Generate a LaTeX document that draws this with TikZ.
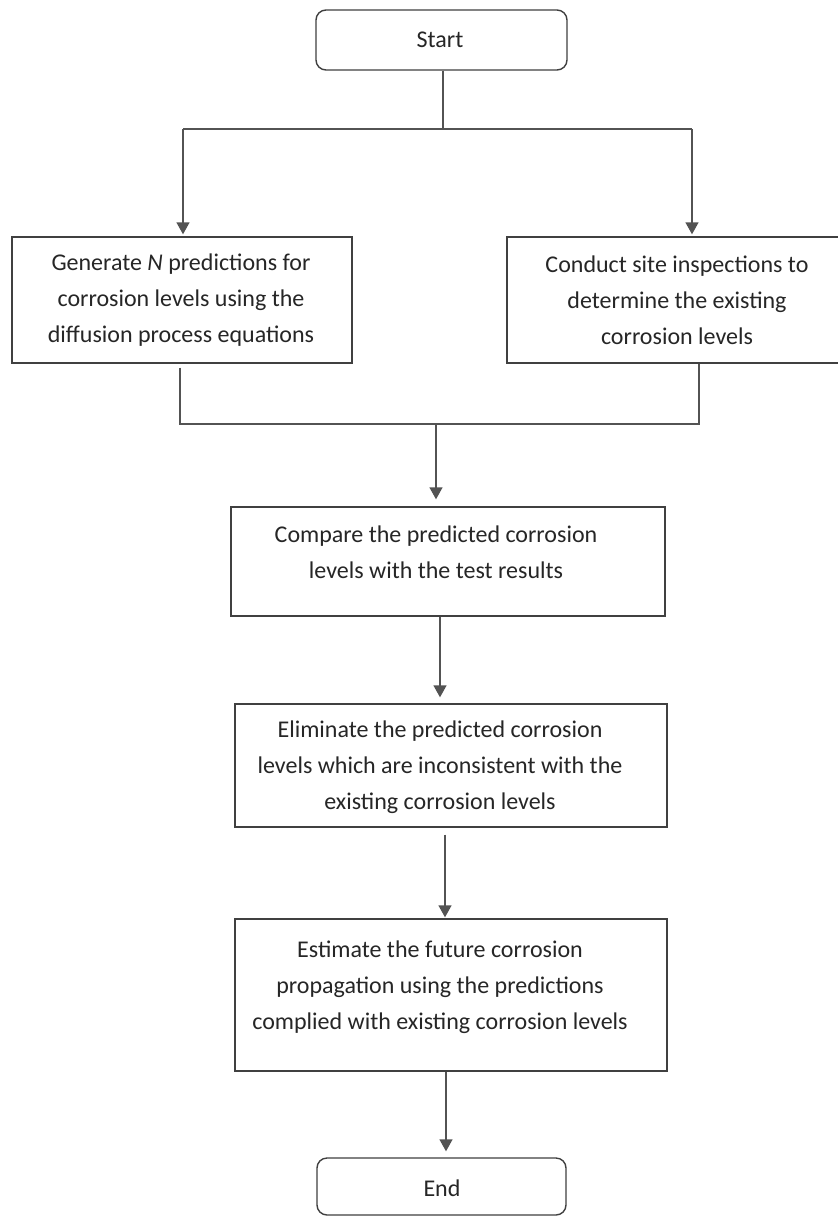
\documentclass[tikz,border=0pt]{standalone}
\usepackage{fontspec}
\setmainfont{Carlito}
\usetikzlibrary{arrows.meta}
\definecolor{linec}{HTML}{404040}
\definecolor{textc}{HTML}{262626}
\begin{document}
\begin{tikzpicture}[x=1pt,y=-1pt,
  box/.style={draw=linec, line width=1.4pt, rectangle, inner sep=0pt},
  rbox/.style={box, rounded corners=10pt},
  lbl/.style={text=textc, align=center, inner sep=0pt, font=\fontsize{24}{36}\selectfont},
  conn/.style={draw=linec!90, line width=1.4pt},
  arr/.style={conn, -{Triangle[width=13pt,length=12pt]}}]
\useasboundingbox (0,0) rectangle (838,1216);
\clip (0,0) rectangle (838,1216);
\fill[white] (0,0) rectangle (838,1216);
% boxes
\node[rbox, minimum width=251pt, minimum height=60pt] (start) at (441.5,40) {};
\node[box, minimum width=340pt, minimum height=126pt] (gen) at (182,300) {};
\node[box, minimum width=340pt, minimum height=126pt] (con) at (677,300) {};
\node[box, minimum width=434pt, minimum height=109pt] (cmp) at (448,561.5) {};
\node[box, minimum width=432pt, minimum height=123pt] (elim) at (451,765.5) {};
\node[box, minimum width=432pt, minimum height=152pt] (est) at (451,995) {};
\node[rbox, minimum width=249pt, minimum height=57pt] (end) at (441.5,1186.5) {};
% texts
\node[lbl] (startT) at (440,40) {Start};
\node[lbl] (genT) at (181,300) {Generate \textit{N} predictions for\\corrosion levels using the\\diffusion process equations};
\node[lbl] (conT) at (677,300) {Conduct site inspections to\\determine the existing\\corrosion levels};
\node[lbl] (cmpT) at (436,552) {Compare the predicted corrosion\\levels with the test results};
\node[lbl] (elimT) at (440,767) {Eliminate the predicted corrosion\\levels which are inconsistent with the\\existing corrosion levels};
\node[lbl] (estT) at (440,987) {Estimate the future corrosion\\propagation using the predictions\\complied with existing corrosion levels};
\node[lbl] (endT) at (442,1188) {End};
% junction coordinates
\coordinate (j1) at (443,129);
\coordinate (jl) at (183,129);
\coordinate (jr) at (692,129);
\coordinate (ml) at (180,424);
\coordinate (mr) at (699,424);
\coordinate (mj) at (436,424);
\coordinate (ax1) at (440,0);
\coordinate (ax2) at (445,0);
\coordinate (ax3) at (446,0);
% connectors
\draw[conn] (start.south -| j1) -- (j1);
\draw[conn] (jl) -- (jr);
\draw[arr, shorten >=2pt] (jl) -- (gen.north -| jl);
\draw[arr, shorten >=2pt] (jr) -- (con.north -| jr);
\draw[conn] ([yshift=-4pt]gen.south -| ml) -- (ml) -- (mr) -- (con.south -| mr);
\draw[arr, shorten >=7pt] (mj) -- (cmp.north -| mj);
\draw[arr, shorten >=6pt] (cmp.south -| ax1) -- (elim.north -| ax1);
\draw[arr, shorten <=7pt, shorten >=1pt] (elim.south -| ax2) -- (est.north -| ax2);
\draw[arr, shorten >=6pt] (est.south -| ax3) -- (end.north -| ax3);
\end{tikzpicture}
\end{document}
